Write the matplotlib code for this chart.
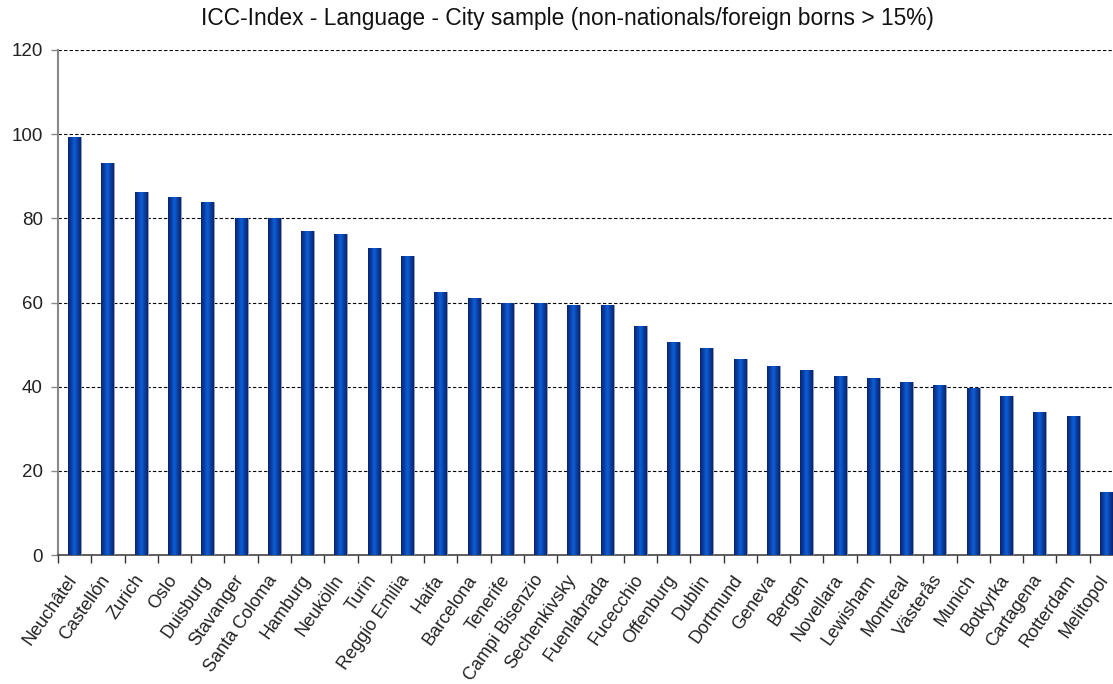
import matplotlib
matplotlib.use('Agg')
import matplotlib.pyplot as plt
import numpy as np

plt.rcParams['font.family'] = ['Liberation Sans', 'DejaVu Sans']

cities = ['Neuchâtel', 'Castellón', 'Zurich', 'Oslo', 'Duisburg', 'Stavanger',
          'Santa Coloma', 'Hamburg', 'Neukölln', 'Turin', 'Reggio Emilia', 'Haifa',
          'Barcelona', 'Tenerife', 'Campi Bisenzio', 'Sechenkivsky', 'Fuenlabrada',
          'Fucecchio', 'Offenburg', 'Dublin', 'Dortmund', 'Geneva', 'Bergen',
          'Novellara', 'Lewisham', 'Montreal', 'Västerås', 'Munich', 'Botkyrka',
          'Cartagena', 'Rotterdam', 'Melitopol']
scores = [99.3, 93.1, 86.3, 85.1, 83.8, 80.1, 80.0, 77.0, 76.3, 73.0, 71.0, 62.5,
          61.0, 60.0, 60.0, 59.5, 59.5, 54.5, 50.5, 49.2, 46.5, 44.8, 44.0,
          42.5, 42.0, 41.2, 40.3, 39.8, 37.9, 33.9, 33.0, 15.0]
yticks = [0, 20, 40, 60, 80, 100, 120]
title = 'ICC-Index - Language - City sample (non-nationals/foreign borns > 15%)'

fig = plt.figure(figsize=(11.13, 6.84), dpi=100)
ax = fig.add_axes([58 / 1113, 129 / 684, 1065 / 1113, 505 / 684])

x = np.arange(len(cities))
bars = ax.bar(x, scores, width=0.39, color='#0047b0', edgecolor='#9aa0b0',
              linewidth=0.6, zorder=3)

# horizontal shading on each bar: dark edges, bright centre
grad = np.linspace(0, 1, 64)
shade = 1 - np.abs(grad - 0.5) * 2
cmap = matplotlib.colors.LinearSegmentedColormap.from_list(
    'barshade', ['#0a2470', '#0b3ea0', '#0a5fd8'])
for b in bars:
    x0, w, h = b.get_x(), b.get_width(), b.get_height()
    im = ax.imshow(shade[np.newaxis, :], cmap=cmap, aspect='auto',
                   extent=(x0, x0 + w, 0, h), zorder=3.5, interpolation='bilinear')
    im.set_clip_path(b)

ax.set_xlim(-0.5, len(cities) - 0.5)
ax.set_ylim(0, 120)
ax.set_yticks(yticks)
ax.set_yticklabels([str(v) for v in yticks], fontsize=13.5, color='#222222')
ax.yaxis.grid(True, linestyle=(0, (3, 2)), color='black', linewidth=0.8, zorder=1)

# ticks between categories; labels hang from just right of each bar centre
ax.set_xticks(np.arange(len(cities) + 1) - 0.5)
ax.set_xticklabels([])
ax.set_xticks(x + 0.18, minor=True)
ax.set_xticklabels(cities, minor=True, rotation=55, ha='right', va='top',
                   fontsize=13, color='#222222')
ax.tick_params(axis='x', which='major', length=6, width=1, color='#333333')
ax.tick_params(axis='x', which='minor', length=0, pad=12)
ax.tick_params(axis='y', length=5, width=1, color='#888888', pad=6)

ax.spines['top'].set_visible(False)
ax.spines['right'].set_visible(False)
ax.spines['left'].set_color('#888888')
ax.spines['left'].set_linewidth(1.5)
ax.spines['bottom'].set_color('#444444')
ax.spines['bottom'].set_linewidth(1.2)

fig.text(567 / 1113, 1 - 19 / 684, title, ha='center', va='center',
         fontsize=16.4, color='#111111')

fig.savefig('out.png', dpi=100)
